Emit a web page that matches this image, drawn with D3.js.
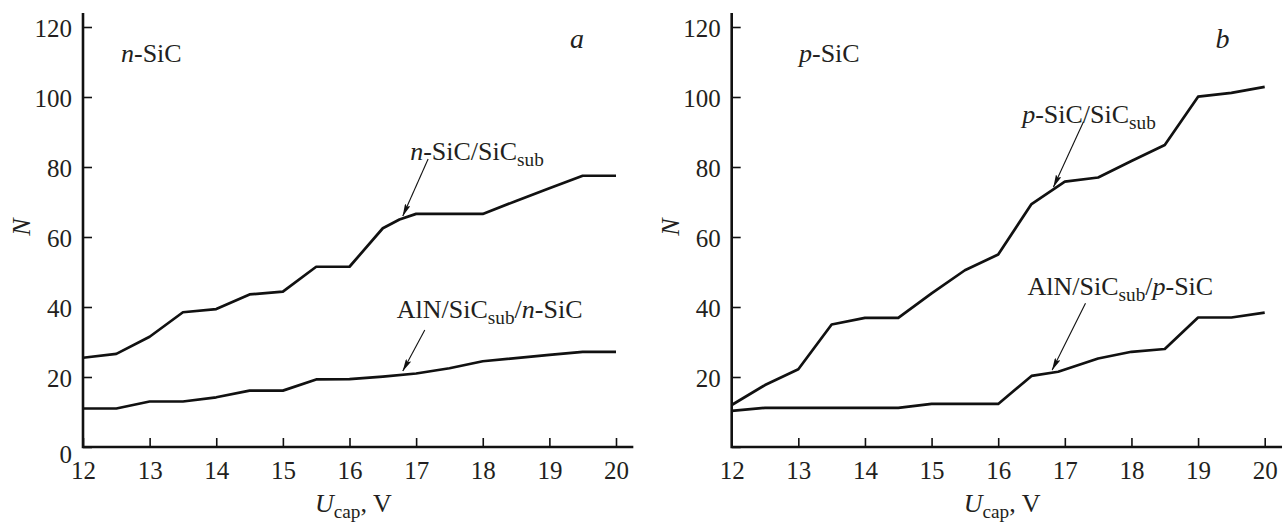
<!DOCTYPE html>
<html>
<head>
<meta charset="utf-8">
<script src="https://cdn.jsdelivr.net/npm/d3@7/dist/d3.min.js"></script>
<style>
  body { margin: 0; background: #fff; }
  svg { display: block; }
  svg text { fill: #231f20; }
</style>
</head>
<body>
<div id="chart"></div>
<script>
const W = 1286, H = 526
const FONT = 'Liberation Serif, Tinos, Times New Roman, Times, Nimbus Roman, Noto Serif, DejaVu Serif, FreeSerif, serif'

// x values (U_cap, V)
const uA = [12, 12.5, 13, 13.5, 14, 14.5, 15, 15.5, 16, 16.5, 16.75, 17, 18, 18.5, 19, 19.5, 20]
const nSub = [25.5, 26.6, 31.5, 38.5, 39.4, 43.6, 44.4, 51.5, 51.5, 62.5, 65, 66.6, 66.6, 70.3, 73.9, 77.5, 77.5]
const uA2 = [12, 12.5, 13, 13.5, 14, 14.5, 15, 15.5, 16, 16.5, 17, 17.5, 18, 19, 19.5, 20]
const alnN = [11, 11, 13, 13, 14.2, 16.1, 16.1, 19.3, 19.4, 20.1, 21, 22.5, 24.5, 26.3, 27.2, 27.2]

const uB = [12, 12.5, 13, 13.5, 14, 14.5, 15, 15.5, 16, 16.5, 17, 17.5, 18, 18.5, 19, 19.5, 20]
const pSub = [12, 17.7, 22.2, 35, 36.9, 36.9, 43.9, 50.5, 55, 69.4, 75.8, 77, 81.7, 86.3, 100.1, 101.2, 102.9]
const uB2 = [12, 12.5, 14.5, 15, 16, 16.5, 16.9, 17.5, 18, 18.5, 19, 19.5, 20]
const alnP = [10.3, 11.2, 11.2, 12.3, 12.3, 20.3, 21.5, 25.3, 27.2, 28, 37, 37, 38.4]

const xTicks = [12, 13, 14, 15, 16, 17, 18, 19, 20]
const yTicks = [0, 20, 40, 60, 80, 100, 120]

const panels = [
  {
    left: 83, tag: 'a', tagAt: [19.31, 114], showZero: true,
    title: [{t: 'n', it: true}, {t: '-SiC'}], titleAt: [12.57, 110],
    series: [
      {u: uA, n: nSub, label: [{t: 'n', it: true}, {t: '-SiC/SiC'}, {t: 'sub', sub: true}],
        labelAt: [16.91, 82], tail: [17.18, 82.3], tip: [16.8, 66]},
      {u: uA2, n: alnN, label: [{t: 'AlN/SiC'}, {t: 'sub', sub: true}, {t: '/'}, {t: 'n', it: true}, {t: '-SiC'}],
        labelAt: [16.71, 36.9], tail: [17.13, 33.4], tip: [16.8, 21.7]}
    ]
  },
  {
    left: 731.7, tag: 'b', tagAt: [19.26, 114], showZero: false,
    title: [{t: 'p', it: true}, {t: '-SiC'}], titleAt: [13.01, 110],
    series: [
      {u: uB, n: pSub, label: [{t: 'p', it: true}, {t: '-SiC/SiC'}, {t: 'sub', sub: true}],
        labelAt: [16.36, 92.6], tail: [17.28, 92.9], tip: [16.83, 74.3]},
      {u: uB2, n: alnP, label: [{t: 'AlN/SiC'}, {t: 'sub', sub: true}, {t: '/'}, {t: 'p', it: true}, {t: '-SiC'}],
        labelAt: [16.44, 43.4], tail: [17.31, 41.1], tip: [16.81, 22]}
    ]
  }
]

const svg = d3.select('#chart').append('svg')
  .attr('width', W)
  .attr('height', H)
  .style('font-family', FONT)

svg.append('defs').append('marker')
  .attr('id', 'arrow')
  .attr('viewBox', '0 0 13 6')
  .attr('refX', 12.5)
  .attr('refY', 3)
  .attr('markerWidth', 13)
  .attr('markerHeight', 6)
  .attr('markerUnits', 'userSpaceOnUse')
  .attr('orient', 'auto')
  .append('path')
  .attr('d', 'M0,0 L13,3 L0,6 L2.5,3 Z')
  .attr('fill', '#111')

// parts: {t, it, sub}; a subscript is dropped by 6px and the next part goes back up
function richText(sel, parts, size) {
  parts.forEach((p, i) => {
    const ts = sel.append('tspan').text(p.t)
    if (p.it) ts.attr('font-style', 'italic')
    if (p.sub) ts.attr('font-size', size * 0.74).attr('dy', 6)
    else if (i > 0 && parts[i - 1].sub) ts.attr('dy', -6)
  })
}

panels.forEach(p => {
  const x = d3.scaleLinear().domain([12, 20]).range([p.left, p.left + 533])
  const y = d3.scaleLinear().domain([0, 120]).range([447, 27])
  const g = svg.append('g')

  // axes
  const ax = g.append('g')
    .attr('transform', 'translate(0,' + y(0) + ')')
    .call(d3.axisBottom(x).tickValues(xTicks).tickSizeInner(-9).tickSizeOuter(0).tickPadding(14))
  const ay = g.append('g')
    .attr('transform', 'translate(' + x(12) + ',0)')
    .call(d3.axisLeft(y).tickValues(yTicks).tickSizeInner(-9).tickSizeOuter(0).tickPadding(11)
      .tickFormat(d => (d === 0 && !p.showZero) ? '' : d))
  ax.select('.domain').remove()
  ay.select('.domain').remove()
  ;[ax, ay].forEach(a => {
    a.attr('font-family', null).attr('font-size', 25)
    a.selectAll('.tick line').attr('stroke', '#111').attr('stroke-width', 1.6)
    a.selectAll('.tick text').attr('fill', '#231f20')
  })
  ax.selectAll('.tick text').attr('dy', '0.72em')
  ay.selectAll('.tick text').attr('dy', '0.36em')
  ay.selectAll('.tick').filter(d => d === 0).select('text').attr('dy', '0.6em')

  g.append('path')
    .attr('d', 'M' + x(12) + ',' + y(124) + ' V' + y(0) + ' H' + x(20.26))
    .attr('fill', 'none')
    .attr('stroke', '#111')
    .attr('stroke-width', 2.6)

  // axis titles
  g.append('text')
    .attr('transform', 'translate(' + (x(12) - 53) + ',' + 227 + ') rotate(-90)')
    .attr('text-anchor', 'middle')
    .attr('font-size', 26)
    .attr('font-style', 'italic')
    .text('N')
  const xt = g.append('text')
    .attr('x', p.left + 232)
    .attr('y', 512)
    .attr('font-size', 26)
  richText(xt, [{t: 'U', it: true}, {t: 'cap', sub: true}, {t: ', V'}], 26)

  // curves
  const line = d3.line().x(d => x(d[0])).y(d => y(d[1]))
  p.series.forEach(s => {
    g.append('path')
      .datum(s.u.map((u, i) => [u, s.n[i]]))
      .attr('d', line)
      .attr('fill', 'none')
      .attr('stroke', '#111')
      .attr('stroke-width', 2.7)
      .attr('stroke-linejoin', 'round')

    g.append('line')
      .attr('x1', x(s.tail[0])).attr('y1', y(s.tail[1]))
      .attr('x2', x(s.tip[0])).attr('y2', y(s.tip[1]))
      .attr('stroke', '#111')
      .attr('stroke-width', 1.1)
      .attr('marker-end', 'url(#arrow)')

    const lt = g.append('text')
      .attr('x', x(s.labelAt[0]))
      .attr('y', y(s.labelAt[1]))
      .attr('font-size', 26)
    richText(lt, s.label, 26)
  })

  const tt = g.append('text')
    .attr('x', x(p.titleAt[0]))
    .attr('y', y(p.titleAt[1]))
    .attr('font-size', 26)
  richText(tt, p.title, 26)

  g.append('text')
    .attr('x', x(p.tagAt[0]))
    .attr('y', y(p.tagAt[1]))
    .attr('font-size', 28)
    .attr('font-style', 'italic')
    .text(p.tag)
})
</script>
</body>
</html>
